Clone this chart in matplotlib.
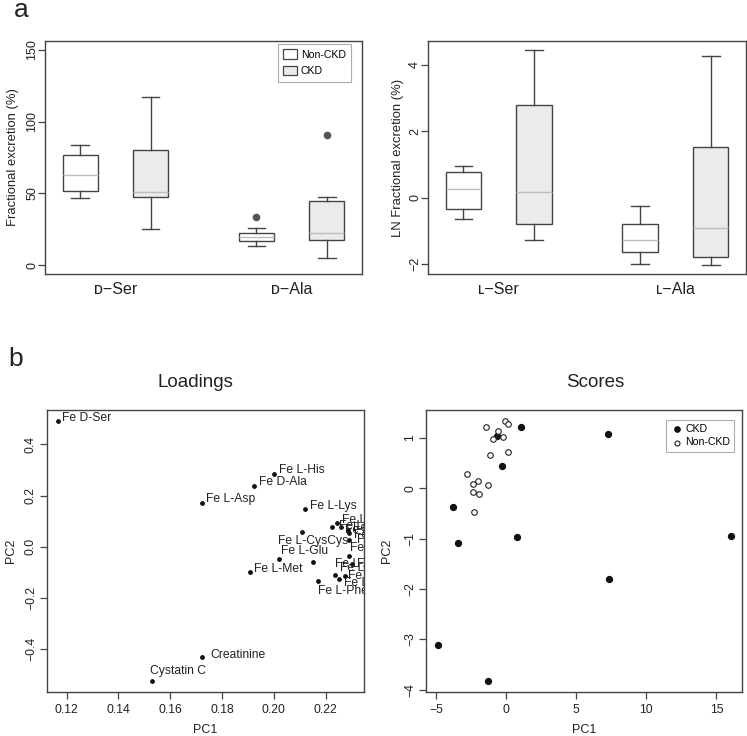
import matplotlib
matplotlib.use("Agg")
import matplotlib.pyplot as plt
from matplotlib.patches import Patch

plt.rcParams['font.family'] = ['Liberation Sans', 'DejaVu Sans']

# ---------------- data ----------------
groups = ['Non-CKD', 'CKD']
d_labels = ['ᴅ−Ser', 'ᴅ−Ala']
l_labels = ['ʟ−Ser', 'ʟ−Ala']

# box stats per box: order NonCKD-Ser, CKD-Ser, NonCKD-Ala, CKD-Ala
d_whislo = [46.8, 25.6, 13.3, 5.4]
d_q1 = [51.4, 47.2, 17.0, 17.9]
d_med = [62.6, 50.9, 19.8, 22.8]
d_q3 = [76.8, 80.5, 22.6, 45.1]
d_whishi = [83.7, 117.2, 26.3, 47.4]
d_fliers = [[], [], [33.7], [90.9]]

l_whislo = [-0.65, -1.27, -2.00, -2.02]
l_q1 = [-0.34, -0.80, -1.64, -1.80]
l_med = [0.25, 0.17, -1.27, -0.92]
l_q3 = [0.76, 2.78, -0.80, 1.53]
l_whishi = [0.945, 4.45, -0.26, 4.28]
l_fliers = [[], [], [], []]

load_names = ['Fe D-Ser', 'Fe L-His', 'Fe D-Ala', 'Fe L-Asp', 'Fe L-Lys',
              'Fe L-Leu', 'Fe L-Ile', 'Fe L-Val', 'Fe L-Thr', 'Fe L-Ser',
              'Fe L-CysCys', 'Fe L-Ala', 'Fe L-Pro', 'Fe L-Tyr', 'Fe L-Arg',
              'Fe L-Glu', 'Fe L-Met', 'Fe L-Trp', 'Fe L-Gln', 'Fe L-Asn',
              'Fe L-Phe', 'Creatinine', 'Cystatin C']
load_pc1 = [0.1168, 0.2001, 0.1923, 0.1724, 0.2119,
            0.2242, 0.2224, 0.2258, 0.2288, 0.2291,
            0.2107, 0.2291, 0.2291, 0.2300, 0.2152,
            0.2021, 0.1908, 0.2236, 0.2275, 0.2253,
            0.2172, 0.1721, 0.1529]
load_pc2 = [0.492, 0.284, 0.238, 0.172, 0.146,
            0.094, 0.078, 0.078, 0.065, 0.055,
            0.056, 0.026, -0.036, -0.068, -0.059,
            -0.049, -0.100, -0.111, -0.113, -0.127,
            -0.133, -0.432, -0.524]
# label offsets in pixels (style, not data)
label_off = [(4, 3), (5, 4), (5, 4), (4, 4), (5, 3),
             (5, 3), (7, 1), (4, -3), (5, 2), (5, -2),
             (-24, -9), (8, 0), (1, 8), (5, 0), (22, -2),
             (2, 8), (4, 3), (5, 7), (3, 0), (5, -4),
             (0, -10), (9, 2), (-2, 10)]

ckd_pc1 = [1.05, 7.29, -0.67, -0.31, -3.75, -3.44, 0.78, 16.03, 7.36, -4.85, -1.28]
ckd_pc2 = [1.225, 1.08, 1.04, 0.437, -0.371, -1.086, -0.974, -0.954, -1.808, -3.119, -3.828]
non_pc1 = [-1.45, -0.07, 0.12, -0.59, -0.90, -0.21, 0.17, -1.12, -2.76, -2.02, -2.33, -1.26, -2.33, -1.90, -2.30]
non_pc2 = [1.212, 1.344, 1.285, 1.139, 0.987, 1.02, 0.728, 0.656, 0.291, 0.139, 0.093, 0.066, -0.073, -0.113, -0.470]

# ---------------- figure ----------------
W, H = 747, 736
fig = plt.figure(figsize=(W / 100, H / 100), dpi=100)

def ax_rect(l, r, t, b):
    return [l / W, 1 - b / H, (r - l) / W, (b - t) / H]

edge = '#444444'
txt = '#222222'
fill_ckd = '#ebebeb'
med_col = '#bdbdbd'


def style_box_axes(ax):
    for s in ax.spines.values():
        s.set_color(edge)
        s.set_linewidth(1.0)
    ax.tick_params(axis='y', colors=edge, labelcolor=txt, length=5, width=0.9,
                   labelsize=9, labelrotation=90, pad=0)
    ax.tick_params(axis='x', length=0, labelsize=11.5, labelcolor=txt, pad=6)
    for lab in ax.get_yticklabels():
        lab.set_va('center')


def draw_boxes(ax, whislo, q1, med, q3, whishi, fliers):
    positions = [1, 2, 3.5, 4.5]
    stats = []
    for i in range(4):
        stats.append(dict(whislo=whislo[i], q1=q1[i], med=med[i], q3=q3[i],
                          whishi=whishi[i], fliers=fliers[i]))
    bp = ax.bxp(stats, positions=positions, widths=0.5, capwidths=0.25,
                patch_artist=True, showfliers=True,
                boxprops=dict(edgecolor=edge, linewidth=1.0),
                whiskerprops=dict(color=edge, linewidth=1.0),
                capprops=dict(color=edge, linewidth=1.0),
                medianprops=dict(color=med_col, linewidth=1.0),
                flierprops=dict(marker='o', markersize=4.5, markerfacecolor='#555555',
                                markeredgecolor='#555555'))
    for i, b in enumerate(bp['boxes']):
        b.set_facecolor('white' if i % 2 == 0 else fill_ckd)
    ax.set_xlim(0.5, 5.0)


# Panel a left
ax1 = fig.add_axes(ax_rect(45, 362, 41, 274))
draw_boxes(ax1, d_whislo, d_q1, d_med, d_q3, d_whishi, d_fliers)
ax1.set_ylim(-6, 156)
ax1.set_yticks([0, 50, 100, 150])
ax1.set_xticks([1.5, 4.0])
ax1.set_xticklabels(d_labels)
ax1.set_ylabel('Fractional excretion (%)', fontsize=9.4, color=txt, labelpad=5)
style_box_axes(ax1)
handles = [Patch(facecolor='white', edgecolor=edge, linewidth=0.9),
           Patch(facecolor=fill_ckd, edgecolor=edge, linewidth=0.9)]
leg = ax1.legend(handles, groups, loc='upper right',
                 bbox_to_anchor=((351 - 45) / 317, (274 - 44) / 233),
                 fontsize=7.6, frameon=True, fancybox=False, borderaxespad=0,
                 handlelength=1.3, handleheight=1.0, handletextpad=0.4,
                 borderpad=0.5, labelspacing=0.6)
leg.get_frame().set_edgecolor('#999999')
leg.get_frame().set_linewidth(0.8)

# Panel a right
ax2 = fig.add_axes(ax_rect(428, 746, 41, 274))
draw_boxes(ax2, l_whislo, l_q1, l_med, l_q3, l_whishi, l_fliers)
ax2.set_ylim(-2.30, 4.72)
ax2.set_yticks([-2, 0, 2, 4])
ax2.set_yticklabels(['−2', '0', '2', '4'])
ax2.set_xticks([1.5, 4.0])
ax2.set_xticklabels(l_labels)
ax2.set_ylabel('LN Fractional excretion (%)', fontsize=9.4, color=txt, labelpad=4)
style_box_axes(ax2)


def style_scatter_axes(ax):
    for s in ax.spines.values():
        s.set_color(edge)
        s.set_linewidth(1.0)
    ax.tick_params(axis='both', colors=edge, labelcolor=txt, length=5, width=0.9,
                   labelsize=8.8, pad=3.5)
    ax.tick_params(axis='y', labelrotation=90, pad=2)
    for lab in ax.get_yticklabels():
        lab.set_va('center')


# Loadings
ax3 = fig.add_axes(ax_rect(46.7, 364, 410, 691.7))
ax3.scatter(load_pc1, load_pc2, s=6, color='#111111', zorder=3)
for name, x, y, off in zip(load_names, load_pc1, load_pc2, label_off):
    t = ax3.annotate(name, (x, y), xytext=off, textcoords='offset pixels',
                     ha='left', va='center', fontsize=8.7, color=txt)
    t.set_clip_on(True)
    t.set_clip_box(ax3.bbox)
ax3.set_xlim(0.1123, 0.2348)
ax3.set_ylim(-0.566, 0.534)
ax3.set_xticks([0.12, 0.14, 0.16, 0.18, 0.20, 0.22])
ax3.set_xticklabels(['0.12', '0.14', '0.16', '0.18', '0.20', '0.22'])
ax3.set_yticks([-0.4, -0.2, 0.0, 0.2, 0.4])
ax3.set_yticklabels(['−0.4', '−0.2', '0.0', '0.2', '0.4'])
ax3.set_xlabel('PC1', fontsize=9, color=txt, labelpad=6)
ax3.set_ylabel('PC2', fontsize=9, color=txt, labelpad=6)
style_scatter_axes(ax3)

# Scores
ax4 = fig.add_axes(ax_rect(426, 742.3, 410, 691.7))
ax4.scatter(ckd_pc1, ckd_pc2, s=18, color='#111111', zorder=3, label='CKD')
ax4.scatter(non_pc1, non_pc2, s=16, facecolor='white', edgecolor='#222222',
            linewidth=0.8, zorder=3, label='Non-CKD')
ax4.set_xlim(-5.70, 16.84)
ax4.set_ylim(-4.04, 1.556)
ax4.set_xticks([-5, 0, 5, 10, 15])
ax4.set_xticklabels(['−5', '0', '5', '10', '15'])
ax4.set_yticks([-4, -3, -2, -1, 0, 1])
ax4.set_yticklabels(['−4', '−3', '−2', '−1', '0', '1'])
ax4.set_xlabel('PC1', fontsize=9, color=txt, labelpad=6)
ax4.set_ylabel('PC2', fontsize=9, color=txt, labelpad=8)
style_scatter_axes(ax4)
leg2 = ax4.legend(loc='upper right',
                  bbox_to_anchor=((734.3 - 426) / 316.3, (691.7 - 420) / 281.7),
                  fontsize=7.6, frameon=True, fancybox=False, borderaxespad=0,
                  handletextpad=0.2, borderpad=0.4, labelspacing=0.3,
                  handlelength=1.2, markerscale=0.9)
leg2.get_frame().set_edgecolor('#999999')
leg2.get_frame().set_linewidth(0.8)

# titles & panel letters
fig.text(195 / W, 1 - 383 / H, 'Loadings', ha='center', va='center', fontsize=13.5, color=txt)
fig.text(595 / W, 1 - 383 / H, 'Scores', ha='center', va='center', fontsize=13.5, color=txt)
fig.text(21 / W, 1 - 17 / H, 'a', ha='center', va='baseline', fontsize=19, color=txt)
fig.text(16 / W, 1 - 366 / H, 'b', ha='center', va='baseline', fontsize=19, color=txt)

fig.savefig('out.png', dpi=100)
